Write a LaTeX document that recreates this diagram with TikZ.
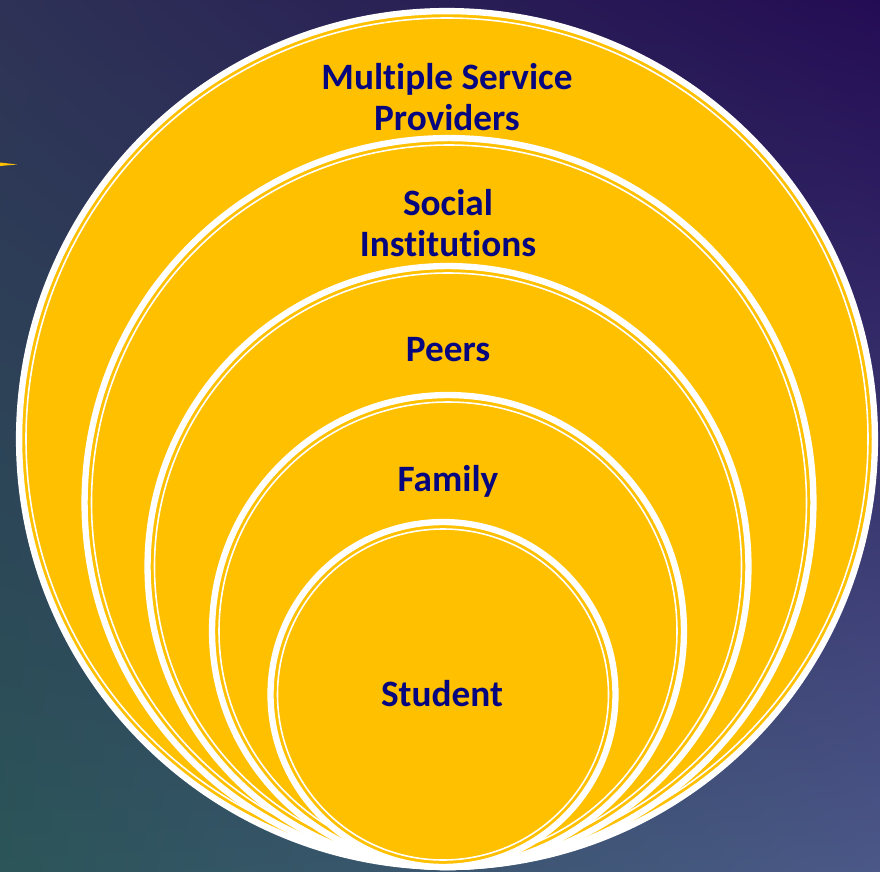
\documentclass[tikz,border=0pt]{standalone}
\usepackage{fontspec}
\setmainfont[Ligatures=NoCommon]{Carlito}
\usepackage{tikz}
\usetikzlibrary{shadings}

\definecolor{gold}{HTML}{FFC000}
\definecolor{navy}{HTML}{06067F}

\tikzset{
  ring/.style = {circle, draw=white, line width=3.6pt, fill=gold, inner sep=0pt},
  innerline/.style = {draw=white, line width=0.9pt},
  lbl/.style = {text=navy, align=center, inner sep=0pt,
                font=\fontsize{21.2}{23}\selectfont\bfseries}
}

\begin{document}
\begin{tikzpicture}[x=0.02cm, y=-0.02cm]
\useasboundingbox (0,0) rectangle (880,872);
% background
\fill[upper left={rgb,255:red,46;green,50;blue,86}, upper right={rgb,255:red,36;green,12;blue,84},
      lower left={rgb,255:red,43;green,85;blue,88}, lower right={rgb,255:red,75;green,88;blue,136}]
  (0,0) rectangle (880,872);
\fill[gold] (0,162.5) -- (17,164.5) -- (0,166) -- cycle;

% circles, biggest first
\node[ring, minimum size=17.12cm] (c1) at (447,439) {};
\draw[innerline] (c1.center) circle[radius=421];
\node[ring, minimum size=14.58cm] (c2) at (449,502.5) {};
\draw[innerline] (c2.center) circle[radius=357.5];
\node[ring, minimum size=12.02cm] (c3) at (448,566.5) {};
\draw[innerline] (c3.center) circle[radius=293.5];
\node[ring, minimum size=9.44cm] (c4) at (448,631) {};
\draw[innerline] (c4.center) circle[radius=229];
\node[ring, minimum size=6.9cm] (c5) at (443,694.5) {};
\draw[innerline] (c5.center) circle[radius=165.5];

% labels
\node[lbl] (l1) at (447,97) {Multiple Service\\Providers};
\node[lbl] (l2) at (448,223) {Social\\Institutions};
\node[lbl] (l3) at (448,350) {Peers};
\node[lbl] (l4) at (448,481) {Family};
\node[lbl] (l5) at (442,694) {Student};
\end{tikzpicture}
\end{document}
